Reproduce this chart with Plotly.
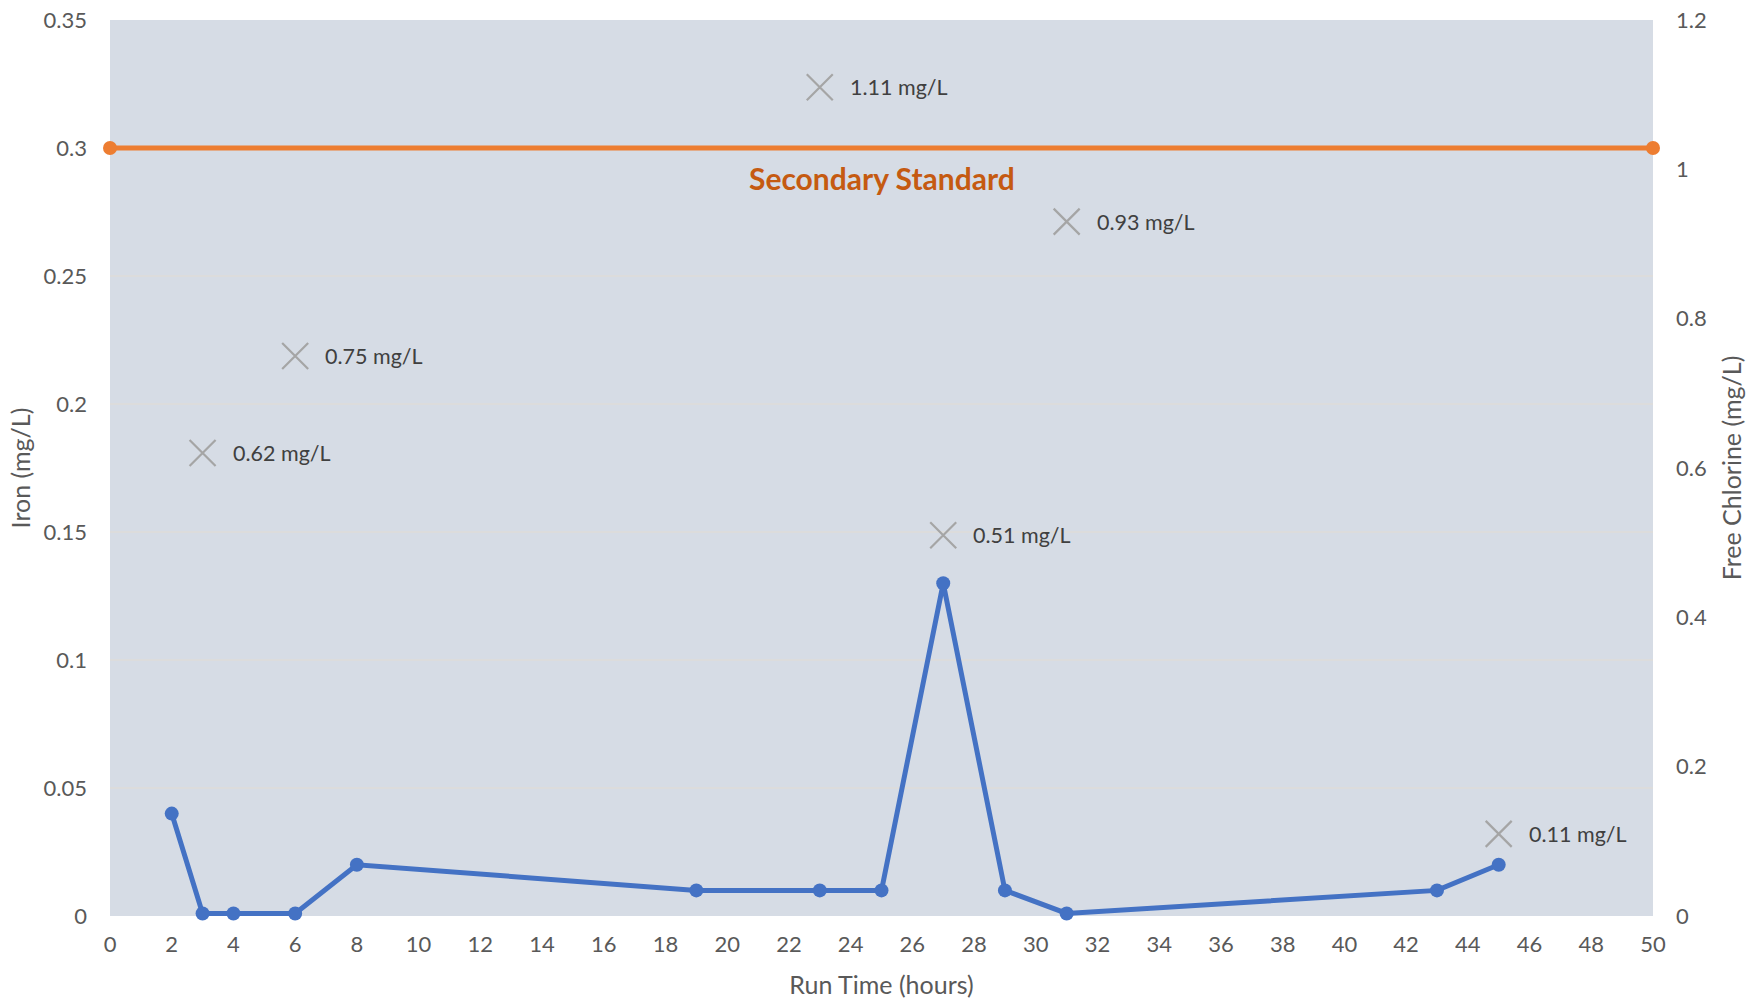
import plotly.graph_objects as go

# Iron concentration over run time (left axis)
run_time = [2, 3, 4, 6, 8, 19, 23, 25, 27, 29, 31, 43, 45]
iron = [0.04, 0.001, 0.001, 0.001, 0.02, 0.01, 0.01, 0.01, 0.13, 0.01, 0.001, 0.01, 0.02]

# Free chlorine spot readings (right axis)
chlorine_time = [3, 6, 23, 27, 31, 45]
chlorine = [0.62, 0.75, 1.11, 0.51, 0.93, 0.11]

# Secondary standard for iron
standard_x = [0, 50]
standard_y = [0.3, 0.3]
standard_label = "Secondary Standard"

x_ticks = list(range(0, 52, 2))
iron_ticks = [0, 0.05, 0.1, 0.15, 0.2, 0.25, 0.3, 0.35]
iron_tick_text = ["0", "0.05", "0.1", "0.15", "0.2", "0.25", "0.3", "0.35"]
chlorine_ticks = [0, 0.2, 0.4, 0.6, 0.8, 1.0, 1.2]
chlorine_tick_text = ["0", "0.2", "0.4", "0.6", "0.8", "1", "1.2"]

FONT = "Lato, Open Sans, sans-serif"
TICK_COLOR = "#595959"

fig = go.Figure()

fig.add_trace(go.Scatter(
    x=standard_x, y=standard_y, mode="lines+markers",
    line=dict(color="#ED7D31", width=5),
    marker=dict(color="#ED7D31", size=14),
    cliponaxis=False, showlegend=False, hoverinfo="skip",
))

fig.add_trace(go.Scatter(
    x=run_time, y=iron, mode="lines+markers",
    line=dict(color="#4472C4", width=5),
    marker=dict(color="#4472C4", size=14),
    cliponaxis=False, showlegend=False,
))

fig.add_trace(go.Scatter(
    x=chlorine_time, y=chlorine, mode="markers", yaxis="y2",
    marker=dict(symbol="x-thin", size=26, line=dict(color="#A5A5A5", width=2.2)),
    cliponaxis=False, showlegend=False,
))

for t, c in zip(chlorine_time, chlorine):
    fig.add_annotation(
        x=t, y=c, yref="y2", text=f"{c:.2f} mg/L", showarrow=False,
        xanchor="left", yanchor="middle", xshift=28,
        font=dict(family=FONT, size=21.5, color="#404040"),
    )

fig.add_annotation(
    x=sum(standard_x) / 2, y=standard_y[0], text=f"<b>{standard_label}</b>",
    showarrow=False, yanchor="middle", yshift=-30,
    font=dict(family=FONT, size=30, color="#C55A11"),
)

fig.update_layout(
    width=1747, height=1001,
    margin=dict(l=110, r=94, t=20, b=85, autoexpand=False),
    paper_bgcolor="white",
    plot_bgcolor="#D6DCE5",
    font=dict(family=FONT, color=TICK_COLOR),
    xaxis=dict(
        range=[0, 50], tickvals=x_ticks, showgrid=False, zeroline=False,
        showline=False, ticks="", ticklabelstandoff=13, automargin=False,
        tickfont=dict(size=22, color=TICK_COLOR),
        title=dict(text="Run Time (hours)", font=dict(size=25, color=TICK_COLOR), standoff=20),
    ),
    yaxis=dict(
        range=[0, 0.35], tickvals=iron_ticks, ticktext=iron_tick_text,
        showgrid=True, gridcolor="#DCDCDC", gridwidth=1.5, zeroline=False,
        showline=False, ticks="", ticklabelstandoff=22, automargin=False,
        tickfont=dict(size=22, color=TICK_COLOR),
        title=dict(text="Iron (mg/L)", font=dict(size=25, color=TICK_COLOR), standoff=5),
    ),
    yaxis2=dict(
        range=[0, 1.2], tickvals=chlorine_ticks, ticktext=chlorine_tick_text,
        overlaying="y", side="right", showgrid=False, zeroline=False,
        showline=False, ticks="", ticklabelstandoff=22, automargin=False,
        tickfont=dict(size=22, color=TICK_COLOR),
        title=dict(text="Free Chlorine (mg/L)", font=dict(size=25, color=TICK_COLOR), standoff=17),
    ),
)

fig.write_html("out.html")
